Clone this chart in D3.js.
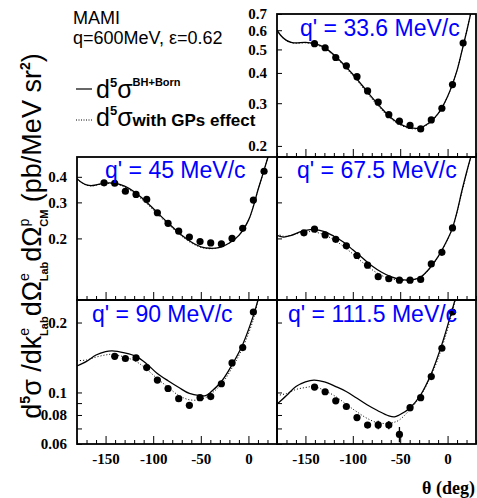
<!DOCTYPE html>
<html><head><meta charset="utf-8">
<script src="https://cdn.jsdelivr.net/npm/d3@7"></script>
<style>body{margin:0;background:#fff;}</style>
</head><body>
<svg id="chart" width="477" height="498"></svg>
<script>
// ---------------- DATA ----------------
const panelTitles = ["q' = 33.6 MeV/c", "q' = 45 MeV/c", "q' = 67.5 MeV/c", "q' = 90 MeV/c", "q' = 111.5 MeV/c"];

// measured points (theta in deg, d5sigma in pb/MeV sr^2)
const theta336 = [-140.4,-129.2,-118,-106.8,-95.6,-84.4,-73.2,-62,-50.8,-39.6,-28.4,-17.2,-6,5.2,16.4];
const data336  = [0.528,0.508,0.463,0.428,0.386,0.337,0.303,0.269,0.253,0.243,0.235,0.256,0.286,0.358,0.531];
const theta45  = [-151.6,-140.4,-129.2,-118,-106.8,-95.6,-84.4,-73.2,-62,-50.8,-39.6,-28.4,-17.2,-6,5.2,16.4];
const data45   = [0.374,0.372,0.340,0.328,0.310,0.267,0.237,0.217,0.203,0.193,0.190,0.188,0.200,0.224,0.308,0.426];
const theta675 = [-151.6,-140.4,-129.2,-118,-106.8,-95.6,-84.4,-73.2,-62,-50.8,-39.6,-28.4,-17.2,-6,5.2];
const data675  = [0.213,0.222,0.208,0.198,0.184,0.165,0.148,0.130,0.127,0.125,0.125,0.126,0.150,0.171,0.225];
const theta90  = [-140.4,-129.2,-118,-106.8,-95.6,-84.4,-73.2,-62,-50.8,-39.6,-28.4,-17.2,-6,5.2];
const data90   = [0.143,0.140,0.141,0.128,0.113,0.104,0.094,0.088,0.095,0.096,0.109,0.134,0.156,0.222];
const theta1115= [-140.4,-129.2,-118,-106.8,-95.6,-84.4,-73.2,-62,-50.8,-39.6,-28.4,-17.2,-6,5.2];
const data1115 = [0.1055,0.1007,0.092,0.087,0.078,0.0724,0.0725,0.0724,0.066,0.086,0.095,0.117,0.155,0.222];
const err1115  = [0,0,0,0,0,0,0.003,0.003,0.005,0.003,0,0,0,0];

// theory curves: BH+Born (solid) and with GPs effect (dotted)
const cTh336 = [-180,-175,-170,-165,-160,-150,-140,-130,-120,-110,-100,-90,-80,-70,-60,-50,-40,-30,-20,-10,0,10,15,20,25];
const bh336  = [0.60,0.565,0.545,0.535,0.532,0.535,0.528,0.51,0.475,0.435,0.395,0.355,0.318,0.287,0.262,0.246,0.238,0.237,0.248,0.272,0.32,0.41,0.49,0.59,0.72];
const gp336  = [0.60,0.563,0.543,0.533,0.530,0.532,0.524,0.505,0.47,0.43,0.39,0.35,0.313,0.283,0.259,0.244,0.236,0.236,0.247,0.271,0.319,0.41,0.49,0.59,0.72];

const cTh45 = [-180,-175,-170,-165,-160,-150,-140,-130,-120,-110,-100,-90,-80,-70,-60,-50,-40,-30,-20,-10,0,5,10,15,20,25];
const bh45  = [0.392,0.375,0.365,0.362,0.365,0.373,0.372,0.36,0.338,0.31,0.28,0.252,0.228,0.207,0.192,0.182,0.179,0.181,0.19,0.207,0.245,0.285,0.345,0.41,0.49,0.58];
const gp45  = [0.39,0.374,0.364,0.361,0.364,0.371,0.369,0.356,0.333,0.305,0.276,0.248,0.225,0.205,0.19,0.181,0.178,0.181,0.19,0.207,0.245,0.285,0.345,0.41,0.49,0.58];

const cTh675 = [-180,-173,-165,-155,-145,-140,-130,-120,-110,-100,-90,-80,-70,-60,-50,-42,-35,-28,-20,-10,0,5,10,15,20,25];
const bh675  = [0.207,0.203,0.207,0.216,0.221,0.221,0.216,0.205,0.192,0.176,0.161,0.147,0.137,0.13,0.126,0.125,0.126,0.13,0.141,0.163,0.198,0.224,0.27,0.34,0.42,0.51];
const gp675  = [0.211,0.205,0.207,0.213,0.216,0.215,0.208,0.197,0.183,0.168,0.153,0.141,0.132,0.127,0.125,0.125,0.126,0.13,0.14,0.162,0.197,0.222,0.268,0.335,0.415,0.51];

const cTh90 = [-180,-170,-160,-150,-143,-130,-118,-107,-96,-84,-73,-62,-51,-45,-40,-28,-17,-6,5,10];
const bh90  = [0.130,0.136,0.145,0.150,0.151,0.148,0.143,0.133,0.121,0.112,0.105,0.099,0.097,0.097,0.1,0.112,0.132,0.161,0.213,0.25];
const gp90  = [0.137,0.138,0.142,0.145,0.146,0.142,0.136,0.126,0.115,0.105,0.097,0.093,0.093,0.095,0.098,0.109,0.128,0.156,0.205,0.25];

const cTh1115 = [-180,-170,-160,-150,-141,-130,-118,-107,-96,-85,-74,-62,-56,-51,-40,-29,-17,-6,5,9];
const bh1115  = [0.089,0.097,0.106,0.111,0.113,0.111,0.106,0.101,0.0946,0.0885,0.0836,0.0793,0.0785,0.080,0.0856,0.0968,0.121,0.161,0.228,0.26];
const gp1115  = [0.097,0.099,0.103,0.105,0.106,0.102,0.096,0.089,0.0827,0.0774,0.0741,0.0736,0.0745,0.0761,0.0841,0.096,0.119,0.156,0.221,0.26];

const yTicksTop = [0.2,0.3,0.4,0.5,0.6,0.7];
const yLabelsTop = ["0.2","0.3","0.4","0.5","0.6","0.7"];
const yTicksMid = [0.2,0.3,0.4];
const yLabelsMid = ["0.2","0.3","0.4"];
const yTicksBot = [0.06,0.07,0.08,0.09,0.1,0.2];
const yLabelsBot = ["0.06","","0.08","","0.1","0.2"];
const xMajorTicks = [-150,-100,-50,0];
const xTickLabels = ["-150","-100","-50","0"];
const xMinorTicks = [-180,-170,-160,-140,-130,-120,-110,-90,-80,-70,-60,-40,-30,-20,-10,10,20,30];

// ---------------- LAYOUT ----------------
const colX = [[77,277],[277,476]];
const rowY = [[14,157],[157,300],[300,444]];
const panels = [
  {col:1,row:0,dom:[0.18,0.7], ticks:yTicksTop, labels:yLabelsTop, title:panelTitles[0], tx:300, ty:36,
   th:theta336, v:data336, e:null, cth:cTh336, bh:bh336, gp:gp336, xlab:false},
  {col:0,row:1,dom:[0.1,0.5], ticks:yTicksMid, labels:yLabelsMid, title:panelTitles[1], tx:105, ty:178,
   th:theta45, v:data45, e:null, cth:cTh45, bh:bh45, gp:gp45, xlab:false},
  {col:1,row:1,dom:[0.1,0.5], ticks:yTicksMid, labels:null, title:panelTitles[2], tx:297, ty:178,
   th:theta675, v:data675, e:null, cth:cTh675, bh:bh675, gp:gp675, xlab:false},
  {col:0,row:2,dom:[0.06,0.25], ticks:yTicksBot, labels:yLabelsBot, title:panelTitles[3], tx:92, ty:322,
   th:theta90, v:data90, e:null, cth:cTh90, bh:bh90, gp:gp90, xlab:true},
  {col:1,row:2,dom:[0.06,0.25], ticks:yTicksBot, labels:null, title:panelTitles[4], tx:288, ty:322,
   th:theta1115, v:data1115, e:err1115, cth:cTh1115, bh:bh1115, gp:gp1115, xlab:true}
];

const svg = d3.select("#chart");
const serif = "'Liberation Serif','Times New Roman',serif";
const sans = "'Liberation Sans',Arial,Helvetica,sans-serif";

panels.forEach((p,i) => {
  const [x0,x1] = colX[p.col], [y0,y1] = rowY[p.row];
  const x = d3.scaleLinear().domain([-180,30]).range([x0,x1]);
  const y = d3.scaleLog().domain(p.dom).range([y1,y0]);
  const g = svg.append("g");
  const cid = "clip"+i;
  svg.append("clipPath").attr("id",cid).append("rect")
     .attr("x",x0).attr("y",y0).attr("width",x1-x0).attr("height",y1-y0);

  const axMin = d3.axisBottom(x).tickValues(xMinorTicks).tickSize(-4).tickFormat("");
  g.append("g").attr("transform",`translate(0,${y1})`).call(axMin)
    .call(a=>a.select(".domain").remove())
    .call(a=>a.selectAll("line").attr("stroke","#000").attr("stroke-width",1));
  const axMaj = d3.axisBottom(x).tickValues(xMajorTicks).tickSize(-8).tickPadding(9)
    .tickFormat((d,k)=> p.xlab ? xTickLabels[k] : "");
  g.append("g").attr("transform",`translate(0,${y1})`).call(axMaj)
    .call(a=>a.select(".domain").remove())
    .call(a=>a.selectAll("line").attr("stroke","#000").attr("stroke-width",1))
    .call(a=>a.selectAll("text").attr("font-family",serif).attr("font-weight","bold")
              .attr("font-size",15).attr("fill","#000"));

  const ay = d3.axisLeft(y).tickValues(p.ticks).tickSize(-5).tickPadding(10)
    .tickFormat((d,k)=> p.labels ? p.labels[k] : "");
  g.append("g").attr("transform",`translate(${x0},0)`).call(ay)
    .call(a=>a.select(".domain").remove())
    .call(a=>a.selectAll("line").attr("stroke","#000").attr("stroke-width",1))
    .call(a=>a.selectAll("text").attr("font-family",serif).attr("font-weight","bold")
              .attr("font-size",15).attr("fill","#000"));

  const line = (vals) => d3.line().x((d,k)=>x(p.cth[k])).y(d=>y(d)).curve(d3.curveCatmullRom.alpha(0.5))(vals);
  g.append("path").attr("d",line(p.gp)).attr("fill","none").attr("stroke","#000")
    .attr("stroke-width",1).attr("stroke-dasharray","1,2").attr("clip-path",`url(#${cid})`);
  g.append("path").attr("d",line(p.bh)).attr("fill","none").attr("stroke","#000")
    .attr("stroke-width",1.3).attr("clip-path",`url(#${cid})`);

  if (p.e) {
    const idx = d3.range(p.v.length).filter(k=>p.e[k]>0);
    g.selectAll("line.err").data(idx).enter().append("line")
      .attr("x1",k=>x(p.th[k])).attr("x2",k=>x(p.th[k]))
      .attr("y1",k=>y(p.v[k]+p.e[k])).attr("y2",k=>y(p.v[k]-p.e[k]))
      .attr("stroke","#000").attr("stroke-width",1.3);
  }
  g.selectAll("circle").data(p.v).enter().append("circle")
    .attr("cx",(d,k)=>x(p.th[k])).attr("cy",d=>y(d)).attr("r",3.6).attr("fill","#000");

  g.append("rect").attr("x",x0).attr("y",y0).attr("width",x1-x0).attr("height",y1-y0)
    .attr("fill","none").attr("stroke","#000").attr("stroke-width",1.8);

  g.append("text").attr("x",p.tx).attr("y",p.ty).text(p.title)
    .attr("font-family",sans).attr("font-size",23).attr("fill","#0000ff");
});

// header texts
svg.append("text").attr("x",73).attr("y",24).text("MAMI")
  .attr("font-family",sans).attr("font-size",18).attr("fill","#000");
svg.append("text").attr("x",73).attr("y",44).text("q=600MeV, ε=0.62")
  .attr("font-family",sans).attr("font-size",18).attr("fill","#000");

// legend
svg.append("line").attr("x1",76).attr("x2",92).attr("y1",89).attr("y2",89)
  .attr("stroke","#000").attr("stroke-width",1.2);
const l1 = svg.append("text").attr("x",96).attr("y",98).attr("font-family",sans).attr("font-size",25);
l1.append("tspan").text("d");
l1.append("tspan").attr("dy",-11).attr("font-size",13).attr("font-weight","bold").text("5");
l1.append("tspan").attr("dy",11).text("σ");
l1.append("tspan").attr("dy",-12).attr("font-size",11).attr("font-weight","bold").text("BH+Born");

svg.append("line").attr("x1",76).attr("x2",92).attr("y1",120).attr("y2",120)
  .attr("stroke","#000").attr("stroke-width",1).attr("stroke-dasharray","1,1.5");
const l2 = svg.append("text").attr("x",96).attr("y",126).attr("font-family",sans).attr("font-size",25);
l2.append("tspan").text("d");
l2.append("tspan").attr("dy",-11).attr("font-size",13).attr("font-weight","bold").text("5");
l2.append("tspan").attr("dy",11).text("σ");
l2.append("tspan").attr("font-size",17).attr("font-weight","bold").text("with GPs effect");

// y axis title
const yt = svg.append("text").attr("transform","translate(41,236) rotate(-90)")
  .attr("text-anchor","middle").attr("font-family",sans).attr("font-size",27).attr("fill","#000");
yt.append("tspan").text("d");
yt.append("tspan").attr("dy",-11).attr("font-size",14).attr("font-weight","bold").text("5");
yt.append("tspan").attr("dy",11).text("σ /dk");
yt.append("tspan").attr("dy",-12).attr("font-size",14).text("e");
yt.append("tspan").attr("dx",-8).attr("dy",19).attr("font-size",11).attr("font-weight","bold").text("Lab");
yt.append("tspan").attr("dy",-7).text("dΩ");
yt.append("tspan").attr("dy",-12).attr("font-size",14).text("e");
yt.append("tspan").attr("dx",-8).attr("dy",19).attr("font-size",11).attr("font-weight","bold").text("Lab");
yt.append("tspan").attr("dy",-7).text("dΩ");
yt.append("tspan").attr("dy",-12).attr("font-size",14).text("p");
yt.append("tspan").attr("dx",-8).attr("dy",19).attr("font-size",11).attr("font-weight","bold").text("CM");
yt.append("tspan").attr("dy",-7).text(" (pb/MeV sr");
yt.append("tspan").attr("dy",-11).attr("font-size",14).attr("font-weight","bold").text("2");
yt.append("tspan").attr("dy",11).text(")");

// x axis title
svg.append("text").attr("x",475).attr("y",494).attr("text-anchor","end")
  .attr("font-family",serif).attr("font-weight","bold").attr("font-size",18).text("θ (deg)");
</script>
</body></html>
